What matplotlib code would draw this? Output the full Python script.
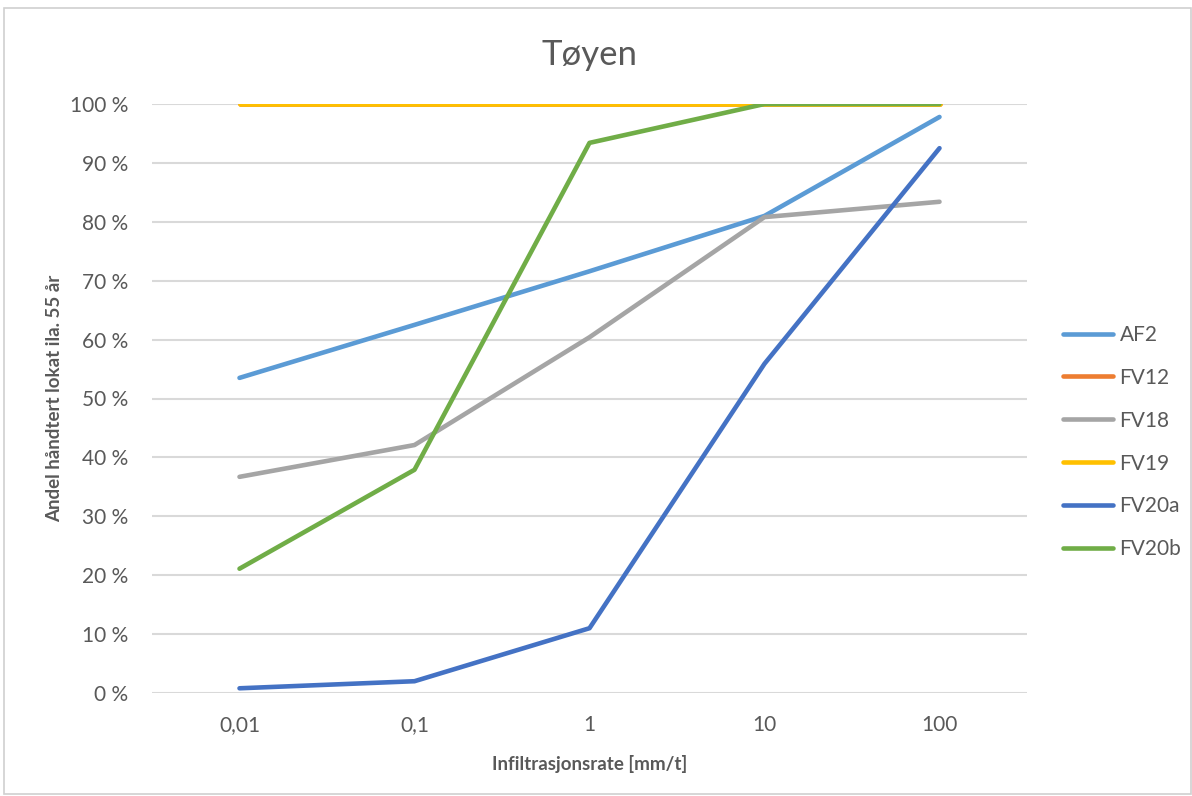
import matplotlib.pyplot as plt
import numpy as np
from matplotlib.patches import Rectangle

plt.rcParams['font.family'] = ['Lato', 'DejaVu Sans']

# Data
rates  = ['0,01', '0,1', '1', '10', '100']
series = ['AF2', 'FV12', 'FV18', 'FV19', 'FV20a', 'FV20b']
af2    = [53.5, 62.5, 71.6, 81.0, 97.8]
fv12   = [100, 100, 100, 100, 100]
fv18   = [36.7, 42.1, 60.4, 80.8, 83.4]
fv19   = [100, 100, 100, 100, 100]
fv20a  = [0.8, 2.0, 11.0, 55.9, 92.5]
fv20b  = [21.1, 37.9, 93.4, 100, 100]
values = [af2, fv12, fv18, fv19, fv20a, fv20b]
colors = ['#5B9BD5', '#ED7D31', '#A5A5A5', '#FFC000', '#4472C4', '#70AD47']

fig = plt.figure(figsize=(11.92, 7.96), dpi=100)
# chart frame
fig.patches.append(Rectangle((4/1192, 0.002), 1 - 5/1192, 1 - 10/796, transform=fig.transFigure,
                             fill=False, edgecolor='#D0D0D0', linewidth=1.2))

ax = fig.add_axes([152/1192, 1 - 693/796, (1027 - 152)/1192, (693 - 104)/796])
x = np.arange(len(rates))
for name, v, c in zip(series, values, colors):
    # lines are clipped at the plot area (like Excel), so the 100 % lines show half width
    ax.plot(x, v, color=c, linewidth=3.3, label=name,
            solid_capstyle='round', solid_joinstyle='round')

ax.set_xlim(-0.5, len(rates) - 0.5)
ax.set_ylim(0, 100)
ax.set_yticks(np.arange(0, 101, 10))
ax.set_yticklabels(['%d %%' % t for t in range(0, 101, 10)])
ax.set_xticks(x)
ax.set_xticklabels(rates)
ax.grid(axis='y', color='#D9D9D9', linewidth=1.5)
ax.set_axisbelow(True)
for s in ax.spines.values():
    s.set_visible(False)
ax.tick_params(length=0, labelsize=15, colors='#595959')
ax.tick_params(axis='y', pad=17)
ax.tick_params(axis='x', pad=16)

ax.set_title('Tøyen', fontsize=25, color='#595959', pad=28)
ax.set_xlabel('Infiltrasjonsrate [mm/t]', fontsize=13.5, fontweight='bold', color='#595959', labelpad=14)
ax.set_ylabel('Andel håndtert lokat ila. 55 år', fontsize=13.5, fontweight='bold', color='#595959', labelpad=5)

leg = ax.legend(loc='center left', bbox_to_anchor=(1.02, 0.426), frameon=False, fontsize=15,
                labelspacing=1.1, handlelength=2.4, handletextpad=0.3)
for t in leg.get_texts():
    t.set_color('#595959')

fig.savefig('out.png', dpi=100)
